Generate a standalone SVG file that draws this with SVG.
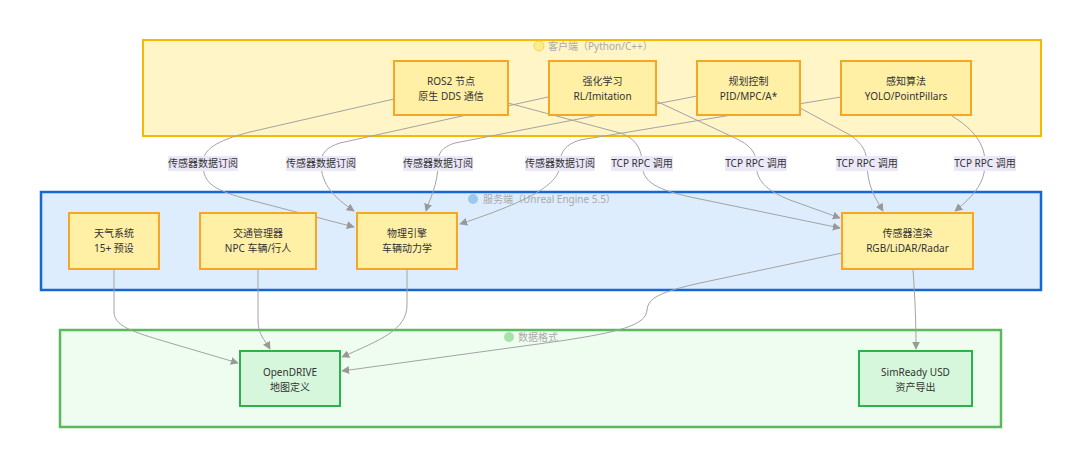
<svg xmlns="http://www.w3.org/2000/svg" width="1080" height="467" viewBox="0 0 1080 467">
<style>
  text { font-family: "Noto Sans", "Noto Sans CJK SC", "DejaVu Sans", sans-serif; }
  .node rect { fill: #fff0a6; stroke: #f5a623; stroke-width: 2; }
  .dnode rect { fill: #d6f7dc; stroke: #2bb24c; stroke-width: 2; }
  .nt { font-size: 10px; fill: #333; text-anchor: middle; }
  .ct { font-size: 10px; fill: #aaa; }
  .edge { fill: none; stroke: #a3a3a3; stroke-width: 1; marker-end: url(#arr); }
  .lbl rect { fill: #ece8f8; }
  .lt { font-size: 10px; fill: #333; text-anchor: middle; }
</style>
<defs>
  <marker id="arr" viewBox="0 0 10 10" refX="9" refY="5" markerWidth="8" markerHeight="8" markerUnits="userSpaceOnUse" orient="auto">
    <path d="M0,0 L10,5 L0,10 z" fill="#999"/>
  </marker>
</defs>
<rect width="1080" height="467" fill="#ffffff"/>

<g id="cluster-client">
  <rect x="143" y="40" width="898" height="96" fill="#fff5c6" stroke="#f6b900" stroke-width="2"/>
  <circle cx="539" cy="46" r="5" fill="#ffec8a" stroke="#f2d560" stroke-width="1"/>
  <text class="ct" x="548" y="50">客户端（Python/C++）</text>
</g>
<g id="cluster-server">
  <rect x="41" y="192" width="1000" height="98" fill="#ddedfd" stroke="#1567d6" stroke-width="2.5"/>
  <circle cx="473" cy="199" r="5" fill="#9cc7ee"/>
  <text class="ct" x="483" y="203">服务端（Unreal Engine 5.5）</text>
</g>
<g id="cluster-data">
  <rect x="60" y="330" width="941" height="97" fill="#effdf0" stroke="#5cb85c" stroke-width="2.5"/>
  <circle cx="509" cy="337" r="5" fill="#a6e3a6"/>
  <text class="ct" x="518" y="341">数据格式</text>
</g>

<g id="connectors">
  <path class="edge" d="M394,99 L250,132 C215,141 203,150 203,163 C203,185 215,190 250,200 L354,227"/>
  <path class="edge" d="M548,97 L340,143 C327,147 321,153 321,163 C321,185 335,198 354,211"/>
  <path class="edge" d="M697,96 L455,143 C442,147 438,153 438,163 C438,185 430,198 426,211"/>
  <path class="edge" d="M841,97 L580,140 C566,144 560,152 560,163 C560,180 545,196 460,224"/>
  <path class="edge" d="M508,103 L620,133 C636,138 642,150 642,163 C642,182 655,190 700,199 L840,228"/>
  <path class="edge" d="M656,101 L735,138 C750,145 756,152 756,163 C756,180 765,190 790,200 L840,218"/>
  <path class="edge" d="M800,108 L850,135 C862,143 867,152 867,163 C867,185 875,198 883,211"/>
  <path class="edge" d="M952,116 C975,130 985,145 985,163 C985,182 975,195 955,211"/>
  <path class="edge" d="M114,269 L114,312 C114,325 130,331 160,340 L238,363"/>
  <path class="edge" d="M258,269 L258,320 C258,335 265,340 270,349"/>
  <path class="edge" d="M407,269 L407,305 C407,330 380,340 342,357"/>
  <path class="edge" d="M842,253 L700,283 C660,292 648,298 647,310 C646,325 620,332 560,341 L342,371"/>
  <path class="edge" d="M913,269 C915,300 916,320 916,349"/>
</g>

<g id="edge-labels">
  <g class="lbl"><rect x="168" y="156" width="70" height="15"/><text class="lt" x="203" y="167">传感器数据订阅</text></g>
  <g class="lbl"><rect x="286" y="156" width="70" height="15"/><text class="lt" x="321" y="167">传感器数据订阅</text></g>
  <g class="lbl"><rect x="403" y="156" width="70" height="15"/><text class="lt" x="438" y="167">传感器数据订阅</text></g>
  <g class="lbl"><rect x="525" y="156" width="70" height="15"/><text class="lt" x="560" y="167">传感器数据订阅</text></g>
  <g class="lbl"><rect x="611" y="156" width="62" height="15"/><text class="lt" x="642" y="167">TCP RPC 调用</text></g>
  <g class="lbl"><rect x="725" y="156" width="62" height="15"/><text class="lt" x="756" y="167">TCP RPC 调用</text></g>
  <g class="lbl"><rect x="836" y="156" width="62" height="15"/><text class="lt" x="867" y="167">TCP RPC 调用</text></g>
  <g class="lbl"><rect x="954" y="156" width="62" height="15"/><text class="lt" x="985" y="167">TCP RPC 调用</text></g>
</g>

<g id="node-ros2" class="node"><rect x="394" y="61" width="114" height="54"/><text class="nt" x="451" y="85">ROS2 节点</text><text class="nt" x="451" y="100">原生 DDS 通信</text></g>
<g id="node-rl" class="node"><rect x="549" y="61" width="107" height="54"/><text class="nt" x="602.5" y="85">强化学习</text><text class="nt" x="602.5" y="100">RL/Imitation</text></g>
<g id="node-plan" class="node"><rect x="697" y="61" width="103" height="54"/><text class="nt" x="748.5" y="85">规划控制</text><text class="nt" x="748.5" y="100">PID/MPC/A*</text></g>
<g id="node-percep" class="node"><rect x="841" y="61" width="130" height="54"/><text class="nt" x="906" y="85">感知算法</text><text class="nt" x="906" y="100">YOLO/PointPillars</text></g>

<g id="node-weather" class="node"><rect x="69" y="213" width="90" height="56"/><text class="nt" x="114" y="237">天气系统</text><text class="nt" x="114" y="252">15+ 预设</text></g>
<g id="node-traffic" class="node"><rect x="200" y="213" width="116" height="56"/><text class="nt" x="258" y="237">交通管理器</text><text class="nt" x="258" y="252">NPC 车辆/行人</text></g>
<g id="node-physics" class="node"><rect x="357" y="213" width="100" height="56"/><text class="nt" x="407" y="237">物理引擎</text><text class="nt" x="407" y="252">车辆动力学</text></g>
<g id="node-sensor" class="node"><rect x="842" y="213" width="131" height="56"/><text class="nt" x="907.5" y="237">传感器渲染</text><text class="nt" x="907.5" y="252">RGB/LiDAR/Radar</text></g>

<g id="node-opendrive" class="dnode"><rect x="240" y="351" width="100" height="55"/><text class="nt" x="290" y="376">OpenDRIVE</text><text class="nt" x="290" y="391">地图定义</text></g>
<g id="node-usd" class="dnode"><rect x="859" y="351" width="113" height="55"/><text class="nt" x="915.5" y="376">SimReady USD</text><text class="nt" x="915.5" y="391">资产导出</text></g>
</svg>
